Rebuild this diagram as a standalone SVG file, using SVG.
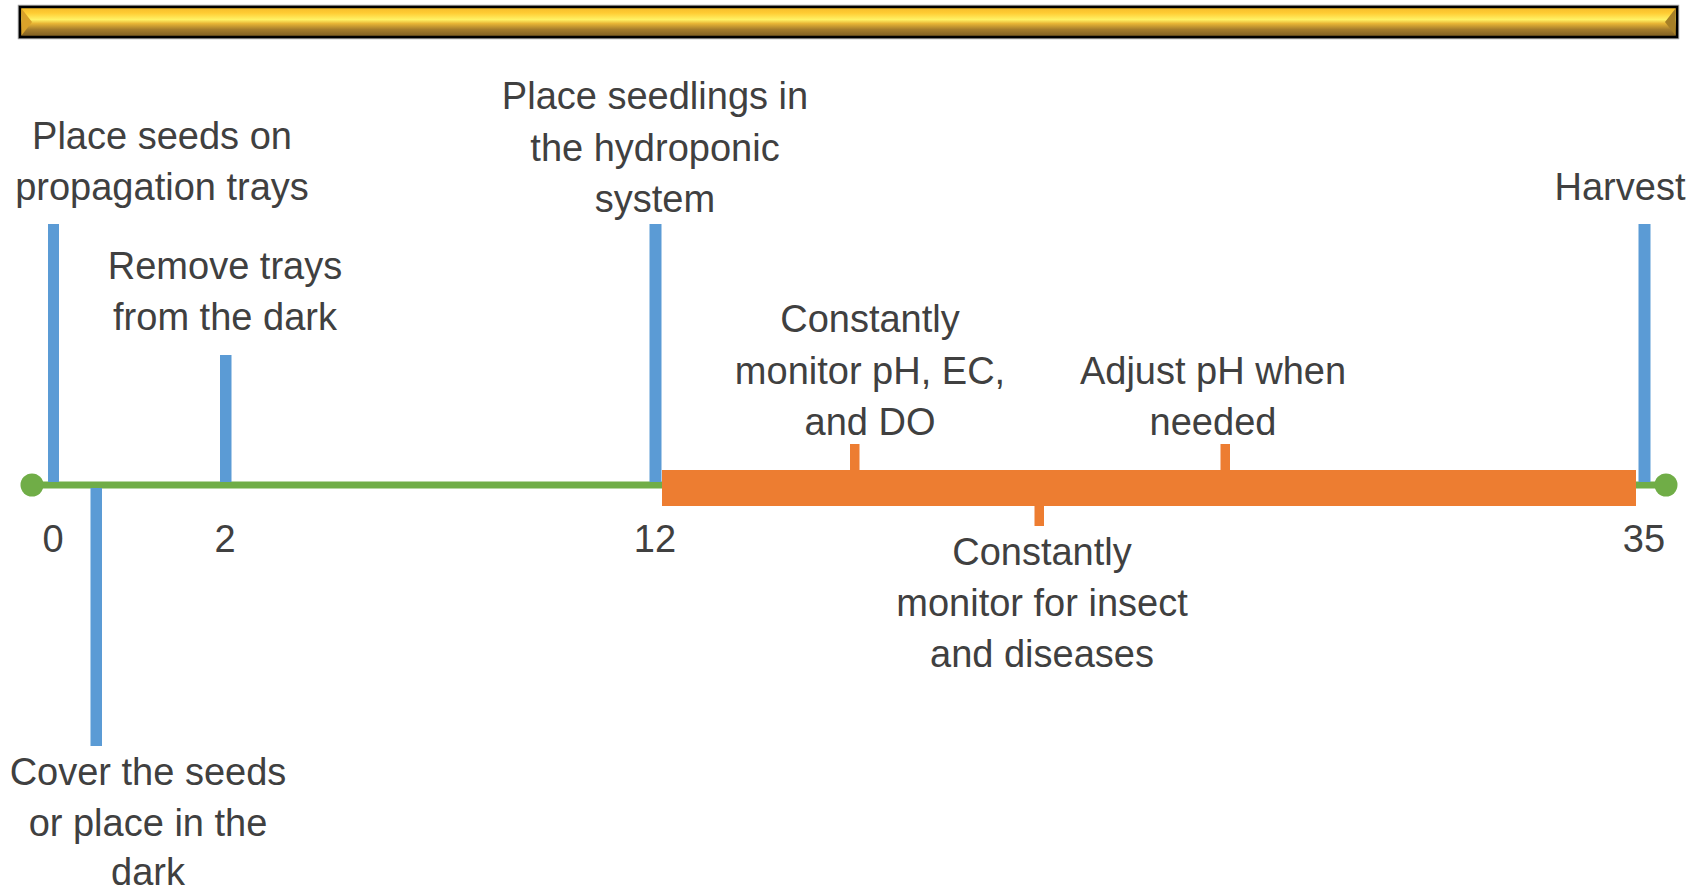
<svg xmlns="http://www.w3.org/2000/svg" width="1705" height="893" viewBox="0 0 1705 893">
<style>
.t{font-family:"Liberation Sans",Arial,sans-serif;font-size:38px;fill:#404040;text-anchor:middle}
.blue{fill:#5B9BD5}
.orange{fill:#ED7D31}
</style>
<defs>
<linearGradient id="gold" x1="0" y1="0" x2="0" y2="1">
<stop offset="0" stop-color="#f2b92a"/>
<stop offset="0.2" stop-color="#ffcc33"/>
<stop offset="0.42" stop-color="#fff266"/>
<stop offset="0.55" stop-color="#e8b535"/>
<stop offset="0.75" stop-color="#a47c2c"/>
<stop offset="1" stop-color="#7a5a20"/>
</linearGradient>
</defs>
<rect width="1705" height="893" fill="#ffffff"/>
<g id="title-bar">
<rect x="18.5" y="5.5" width="1660" height="33" fill="none" stroke="#a0a0a0" stroke-width="1.5"/>
<rect x="20" y="7" width="1657" height="30" fill="url(#gold)" stroke="#000" stroke-width="2.5"/>
<polygon points="21.5,8.5 32,22 21.5,35.5" fill="#d9a22a"/>
<polygon points="1675.5,8.5 1665,22 1675.5,35.5" fill="#a67f26"/>
</g>
<g id="connectors">
<rect x="32" y="481.5" width="1634" height="7" fill="#70AD47"/>
<circle cx="32" cy="485" r="11.5" fill="#70AD47"/>
<circle cx="1666" cy="485" r="11.5" fill="#70AD47"/>
<rect class="blue" x="48" y="224" width="11" height="258"/>
<rect class="blue" x="90.5" y="488" width="11.5" height="258"/>
<rect class="blue" x="220" y="355" width="11.5" height="127"/>
<rect class="blue" x="649.5" y="224" width="12" height="258"/>
<rect class="blue" x="1638.5" y="224" width="12" height="258"/>
<rect class="orange" x="850" y="444" width="9.5" height="27"/>
<rect class="orange" x="1220.5" y="444" width="9.5" height="27"/>
<rect class="orange" x="1034.5" y="505" width="9.5" height="21"/>
</g>
<g id="monitor-band">
<rect class="orange" x="662" y="470" width="974" height="36"/>
</g>
<g id="day-0">
<text class="t" x="162" y="149">Place seeds on</text>
<text class="t" x="162" y="200">propagation trays</text>
<text class="t" x="53" y="552">0</text>
</g>
<g id="cover-seeds">
<text class="t" x="148" y="785">Cover the seeds</text>
<text class="t" x="148" y="836">or place in the</text>
<text class="t" x="148" y="885">dark</text>
</g>
<g id="day-2">
<text class="t" x="225" y="279">Remove trays</text>
<text class="t" x="225" y="330">from the dark</text>
<text class="t" x="225" y="552">2</text>
</g>
<g id="day-12">
<text class="t" x="655" y="109">Place seedlings in</text>
<text class="t" x="655" y="161">the hydroponic</text>
<text class="t" x="655" y="212">system</text>
<text class="t" x="655" y="552">12</text>
</g>
<g id="monitor-ph">
<text class="t" x="870" y="332">Constantly</text>
<text class="t" x="870" y="384">monitor pH, EC,</text>
<text class="t" x="870" y="435">and DO</text>
</g>
<g id="adjust-ph">
<text class="t" x="1213" y="384">Adjust pH when</text>
<text class="t" x="1213" y="435">needed</text>
</g>
<g id="monitor-insects">
<text class="t" x="1042" y="565">Constantly</text>
<text class="t" x="1042" y="616">monitor for insect</text>
<text class="t" x="1042" y="667">and diseases</text>
</g>
<g id="day-35">
<text class="t" x="1620" y="200">Harvest</text>
<text class="t" x="1644" y="552">35</text>
</g>
</svg>
